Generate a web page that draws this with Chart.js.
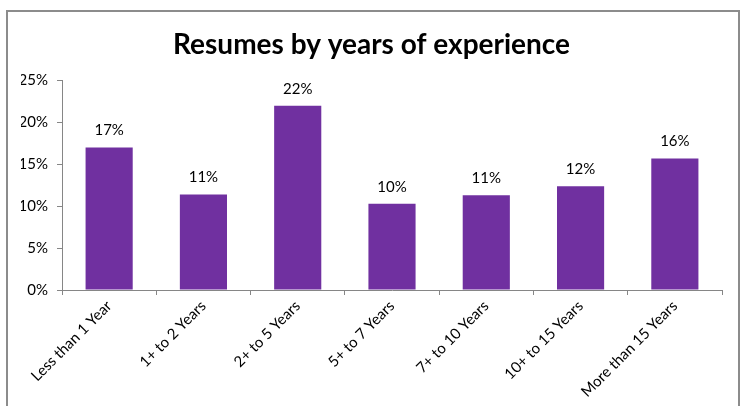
<!DOCTYPE html>
<html lang="en">

<head>
    <meta charset="UTF-8">
    <script src="https://cdn.jsdelivr.net/npm/chart.js@4/dist/chart.umd.min.js"></script>
    <title>Resumes by years of experience</title>
    <style>
        body { margin: 0; background: #fff; }
        .moldura {
            position: absolute; left: 6px; top: 10px;
            width: 730px; height: 420px;
            border: 2px solid #8c8c8c;
        }
        .grafico { position: absolute; left: 0; top: 0; width: 743px; height: 406px; }
    </style>
</head>

<body>
    <div class="moldura"></div>
    <div class="grafico">
        <canvas id="chartAnos"></canvas>
    </div>
</body>

</html>
<script>
    // categorias e valores (%)
    var categorias = ['Less than 1 Year', '1+ to 2 Years', '2+ to 5 Years', '5+ to 7 Years',
        '7+ to 10 Years', '10+ to 15 Years', 'More than 15 Years'];
    var percentuais = [17.0, 11.4, 22.0, 10.3, 11.3, 12.4, 15.7];
    var marcasY = [0, 5, 10, 15, 20, 25];

    var cinza = '#868686';
    var fonte = 'Lato, Carlito, Calibri, sans-serif';

    /* rótulos em cima das barras */
    var rotulosBarras = {
        id: 'rotulosBarras',
        afterDatasetsDraw(chart) {
            var ctx = chart.ctx;
            var meta = chart.getDatasetMeta(0);
            ctx.save();
            ctx.font = '15px ' + fonte;
            ctx.fillStyle = '#000';
            ctx.textAlign = 'center';
            ctx.textBaseline = 'middle';
            meta.data.forEach(function (barra, i) {
                ctx.fillText(Math.round(percentuais[i]) + '%', barra.x, barra.y - 17);
            });
            ctx.restore();
        }
    };

    var ctx1 = chartAnos.getContext('2d');
    var myChart = new Chart(ctx1, {
        type: 'bar',
        data: {
            labels: categorias,
            datasets: [{
                data: percentuais,
                backgroundColor: '#7030A0',
                borderWidth: 0,
                barPercentage: 0.5,
                categoryPercentage: 1
            }]
        },
        options: {
            responsive: true,
            maintainAspectRatio: false,
            animation: false,
            layout: { padding: { left: 21, right: 21, top: 0, bottom: 0 } },
            plugins: {
                legend: { display: false },
                tooltip: { enabled: false },
                title: {
                    display: true,
                    text: 'Resumes by years of experience',
                    color: '#000',
                    font: { family: fonte, size: 28, weight: 'bold' },
                    padding: { top: 28, bottom: 19 }
                }
            },
            scales: {
                x: {
                    afterFit(scale) { scale.height = 116; },
                    grid: { display: true, drawOnChartArea: false, offset: true, tickLength: 5, color: cinza },
                    border: { color: cinza, width: 1 },
                    ticks: {
                        color: '#000',
                        font: { family: fonte, size: 15 },
                        maxRotation: 45,
                        minRotation: 45,
                        padding: 2,
                        autoSkip: false
                    }
                },
                y: {
                    min: 0,
                    max: 25,
                    afterFit(scale) { scale.width = 41; },
                    afterBuildTicks(scale) { scale.ticks = marcasY.map(v => ({ value: v })); },
                    grid: { display: true, drawOnChartArea: false, tickLength: 5, color: cinza },
                    border: { color: cinza, width: 1 },
                    ticks: {
                        color: '#000',
                        font: { family: fonte, size: 15 },
                        padding: 9,
                        callback: v => v + '%'
                    }
                }
            }
        },
        plugins: [rotulosBarras]
    });
</script>
